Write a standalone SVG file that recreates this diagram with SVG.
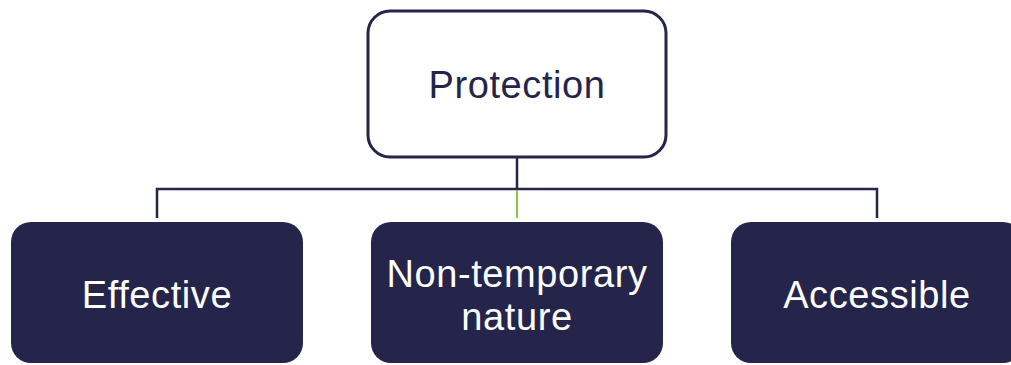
<svg xmlns="http://www.w3.org/2000/svg" width="1011" height="365" viewBox="0 0 1011 365">
<style>
.top{fill:#ffffff;stroke:#25244b;stroke-width:3}
.leaf{fill:#25244b}
.t{font-family:"Liberation Sans",Arial,sans-serif;font-size:38px;text-anchor:middle;letter-spacing:0.6px}
.dark{fill:#25244b}
.light{fill:#ffffff}
.c{fill:none;stroke:#25244b;stroke-width:2.5}
</style>
<g id="connectors">
<path class="c" d="M517 158 V189 M157 218 V189 H877 V218"/>
<line x1="517" y1="190" x2="517" y2="218" stroke="#8dc63f" stroke-width="2"/>
</g>
<g id="protection">
<rect class="top" x="368" y="11" width="298" height="146" rx="22"/>
<text class="t dark" x="517" y="98">Protection</text>
</g>
<g id="effective">
<rect class="leaf" x="11" y="222" width="292" height="141" rx="20"/>
<text class="t light" x="157" y="308">Effective</text>
</g>
<g id="nontemporary">
<rect class="leaf" x="371" y="222" width="292" height="141" rx="20"/>
<text class="t light" x="517" y="287"><tspan x="517" y="287">Non-temporary</tspan><tspan x="517" y="330">nature</tspan></text>
</g>
<g id="accessible">
<rect class="leaf" x="731" y="222" width="292" height="141" rx="20"/>
<text class="t light" x="877" y="308">Accessible</text>
</g>
</svg>
